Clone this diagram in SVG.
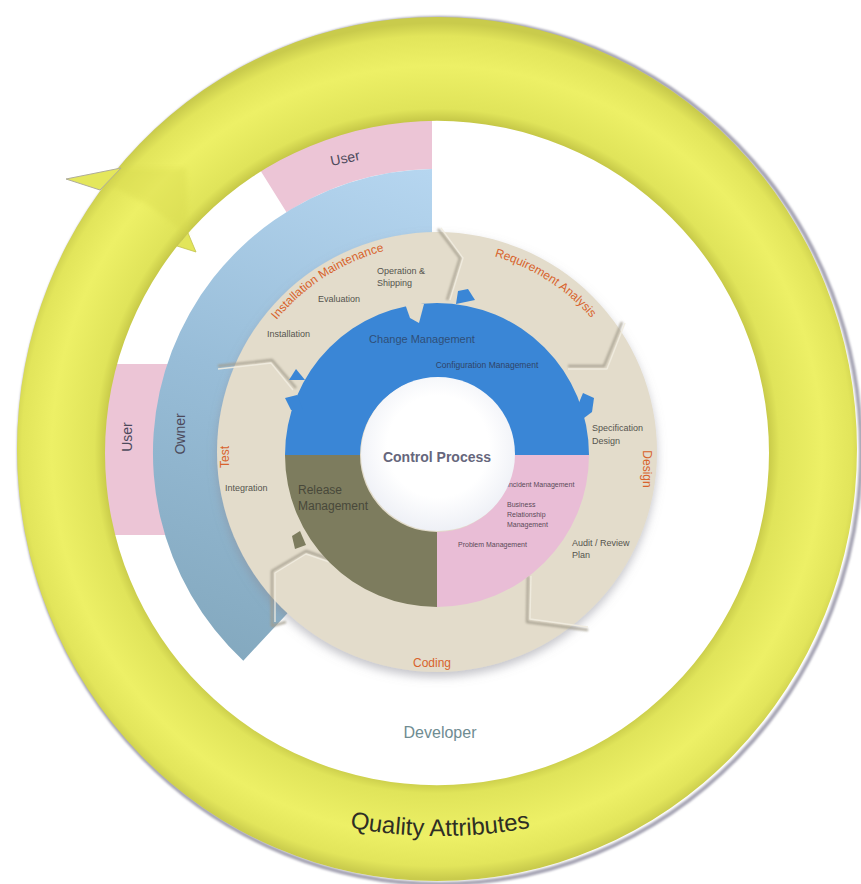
<svg xmlns="http://www.w3.org/2000/svg" width="861" height="884" viewBox="0 0 861 884">
  <style>
    text { font-family: "Liberation Sans", Arial, sans-serif; }
    .small { font-size: 9px; fill: #55544e; }
    .tiny { font-size: 7px; fill: #5a4a58; }
    .phase { font-size: 12px; fill: #d8632c; }
    .role { font-size: 14px; fill: #4c4a5c; }
    .sep { fill: none; stroke: #a39d8d; stroke-width: 2.4; stroke-linejoin: round; opacity: 0.85; filter: url(#blur1); }
    .hl { fill: none; stroke: #f1ece0; stroke-width: 1.4; stroke-linejoin: round; opacity: 0.9; }
  </style>
  <defs>
    <filter id="blur1" x="-20%" y="-20%" width="140%" height="140%">
      <feGaussianBlur stdDeviation="1.2"/>
    </filter>
    <filter id="blur3" x="-10%" y="-10%" width="120%" height="120%">
      <feGaussianBlur stdDeviation="2.5"/>
    </filter>
    <filter id="discShadow" x="-10%" y="-10%" width="120%" height="125%">
      <feDropShadow dx="0" dy="5" stdDeviation="5" flood-color="#8a8a96" flood-opacity="0.5"/>
    </filter>
    <radialGradient id="ringFill" cx="437" cy="451" r="428" gradientUnits="userSpaceOnUse">
      <stop offset="0.77" stop-color="#c4c646"/>
      <stop offset="0.80" stop-color="#e0e45a"/>
      <stop offset="0.90" stop-color="#edf066"/>
      <stop offset="0.97" stop-color="#e2e55b"/>
      <stop offset="1" stop-color="#c9cb4c"/>
    </radialGradient>
    <linearGradient id="ownerFill" x1="432" y1="170" x2="240" y2="660" gradientUnits="userSpaceOnUse">
      <stop offset="0" stop-color="#b6d6f0"/>
      <stop offset="0.5" stop-color="#98bdd8"/>
      <stop offset="1" stop-color="#84a9bf"/>
    </linearGradient>
    <radialGradient id="hubFill" cx="0.5" cy="0.45" r="0.55">
      <stop offset="0.6" stop-color="#ffffff"/>
      <stop offset="1" stop-color="#eef0f6"/>
    </radialGradient>
    <path id="arcInstall" d="M 232.2,416.9 A 208 208 0 0 1 490.8,251.1"/>
    <path id="arcReq" d="M 401.6,251.1 A 205 205 0 0 1 635.0,399.9"/>
    <path id="arcQuality" d="M 300,816 A 500 500 0 0 0 580,816"/>
  </defs>

  <rect width="861" height="884" fill="#ffffff"/>

  <!-- stakeholder bands -->
  <g id="user-top">
    <path d="M 259.5,168.9 A 335 335 0 0 1 432,118 L 432,169 A 284 284 0 0 0 286.5,212.2 Z" fill="#ecc5d6"/>
    <text class="role" x="345" y="163" text-anchor="middle" transform="rotate(-12 345 158)">User</text>
  </g>
  <g id="user-left">
    <path d="M 114,364 L 171.5,364 A 280 280 0 0 0 169.3,535 L 112.2,535 A 335 335 0 0 1 114,364 Z" fill="#ecc5d6"/>
    <text class="role" x="0" y="0" text-anchor="middle" transform="translate(132 437) rotate(-90)">User</text>
  </g>
  <g id="owner">
    <path d="M 432,169 A 284 284 0 0 0 243.3,660.7 L 293.8,606.6 A 210 210 0 0 1 432,243.1 Z" fill="url(#ownerFill)"/>
    <text class="role" x="0" y="0" text-anchor="middle" fill="#46566a" transform="translate(185 434) rotate(-90)">Owner</text>
  </g>

  <!-- quality attributes ring (circular arrow) -->
  <g id="quality-attributes">
    <ellipse cx="440" cy="451" rx="421" ry="433" fill="none" stroke="#a6a4b4" stroke-width="4" filter="url(#blur1)"/>
    <path d="M 17,449 A 420 432 0 1 0 857,449 A 420 432 0 1 0 17,449 Z M 105,453 A 332 332 0 1 1 769,453 A 332 332 0 1 1 105,453 Z" fill="url(#ringFill)" fill-rule="evenodd"/>
    <polygon points="100,190 66,179 121,168" fill="#e4e75c" stroke="#b0ae9a" stroke-width="1"/>
    <polygon points="177,246 196,252 188,233" fill="#e2e55a" stroke="#c2c24c" stroke-width="0.8"/>
    <polygon points="108,184 124,168 186,168 188,236 150,206" fill="#d6d84e" opacity="0.35" filter="url(#blur3)"/>
    <text x="0" y="0" font-size="24" fill="#2e2e24"><textPath href="#arcQuality" startOffset="50%" text-anchor="middle">Quality Attributes</textPath></text>
  </g>

  <g id="developer">
    <text x="440" y="738" text-anchor="middle" font-size="16" fill="#6f8c92">Developer</text>
  </g>

  <!-- life-cycle disc -->
  <g id="lifecycle-disc">
    <circle cx="437" cy="452" r="220" fill="#e3dccb" filter="url(#discShadow)"/>
  </g>

  <!-- phase boundaries (chevrons between phases) -->
  <g id="connectors">
    <path class="sep" d="M 438,229 L 460,258 L 447,300"/>
    <path class="hl" d="M 441,228 L 463,258 L 450,300"/>
    <path class="sep" d="M 622,322 L 604,366 L 568,366"/>
    <path class="hl" d="M 625,323 L 607,369 L 568,369"/>
    <path class="sep" d="M 528,576 L 527,622 L 588,630"/>
    <path class="hl" d="M 531,576 L 530,619 L 588,627"/>
    <path class="sep" d="M 338,562 L 306,551 L 272,571 L 272,626 L 286,622"/>
    <path class="hl" d="M 338,565 L 306,554 L 275,573 L 275,622"/>
    <path class="sep" d="M 218,366 L 272,360 L 296,388"/>
    <path class="hl" d="M 218,369 L 271,363 L 293,390"/>
  </g>

  <!-- control process rings -->
  <g id="change-management">
    <path d="M 285,455 A 152 152 0 0 1 589,455 L 514,455 A 77 77 0 0 0 360,455 Z" fill="#3a86d6"/>
    <polygon points="456,304 458,291 468,289 475,300" fill="#3a86d6"/>
    <polygon points="578,405 583,393 594,398 592,412 584,418" fill="#3a86d6"/>
    <polygon points="291,410 285,398 297,395 303,410" fill="#3a86d6"/>
    <polygon points="289,380 296,369 305,380" fill="#3a86d6"/>
    <polygon points="404,301 424,304 419,323 410,318" fill="#e3dccb"/>
    <text x="422" y="343" text-anchor="middle" font-size="11" fill="#2f4f78">Change Management</text>
    <text x="487" y="368" text-anchor="middle" font-size="8.5" fill="#2f4468">Configuration Management</text>
  </g>
  <g id="incident-management">
    <path d="M 589,455 A 152 152 0 0 1 437,607 L 437,532 A 77 77 0 0 0 514,455 Z" fill="#e9bdd6"/>
    <text class="tiny" x="507" y="487">Incident Management</text>
    <text class="tiny" x="507" y="507">Business</text>
    <text class="tiny" x="507" y="517">Relationship</text>
    <text class="tiny" x="507" y="527">Management</text>
    <text class="tiny" x="458" y="547" font-size="7.5">Problem Management</text>
  </g>
  <g id="release-management">
    <path d="M 437,607 A 152 152 0 0 1 285,455 L 360,455 A 77 77 0 0 0 437,532 Z" fill="#7d7c5e"/>
    <polygon points="292,536 300,531 306,545 295,549" fill="#7d7c5e"/>
    <text x="298" y="494" font-size="12" fill="#48483a">Release</text>
    <text x="298" y="510" font-size="12" fill="#48483a">Management</text>
  </g>
  <g id="control-process">
    <circle cx="438" cy="454" r="77" fill="url(#hubFill)"/>
    <text x="437" y="462" text-anchor="middle" font-size="14" font-weight="bold" fill="#66667c">Control Process</text>
  </g>

  <!-- phases -->
  <g id="installation-maintenance">
    <text class="phase"><textPath href="#arcInstall" startOffset="50%" text-anchor="middle">Installation Maintenance</textPath></text>
    <text class="small" x="267" y="337">Installation</text>
    <text class="small" x="318" y="302">Evaluation</text>
    <text class="small" x="377" y="274">Operation &amp;</text>
    <text class="small" x="377" y="286">Shipping</text>
  </g>
  <g id="requirement-analysis">
    <text class="phase"><textPath href="#arcReq" startOffset="50%" text-anchor="middle">Requirement Analysis</textPath></text>
  </g>
  <g id="design">
    <text class="phase" x="0" y="0" text-anchor="middle" transform="translate(643 469) rotate(90)">Design</text>
    <text class="small" x="592" y="431">Specification</text>
    <text class="small" x="592" y="444">Design</text>
    <text class="small" x="572" y="546" font-size="9.5">Audit / Review</text>
    <text class="small" x="572" y="558" font-size="9.5">Plan</text>
  </g>
  <g id="coding">
    <text class="phase" x="432" y="667" text-anchor="middle">Coding</text>
  </g>
  <g id="test">
    <text class="phase" x="0" y="0" text-anchor="middle" transform="translate(229 457) rotate(-90)">Test</text>
    <text class="small" x="225" y="491">Integration</text>
  </g>
</svg>
